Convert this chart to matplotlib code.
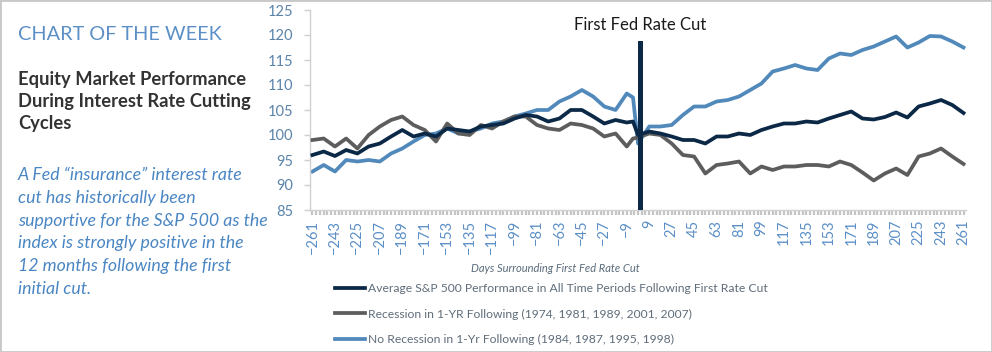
"""
Purpose: Chart of the week - S&P 500 around the first Fed rate cut
"""

import numpy as np
import matplotlib
matplotlib.use('Agg')
from matplotlib import pyplot as plt
from matplotlib import patches

# days around the first cut (x axis)
days = [-261, -252, -243, -234, -225, -216, -207, -198, -189, -180,
        -171, -162, -153, -144, -135, -126, -117, -108, -99, -90,
        -81, -72, -63, -54, -45, -36, -27, -18, -9, -4,
        0, 9, 18, 27, 36, 45, 54, 63, 72, 81,
        90, 99, 108, 117, 126, 135, 144, 153, 162, 171,
        180, 189, 198, 207, 216, 225, 234, 243, 252, 261]

avg_all = [96.0, 96.7, 95.8, 97.0, 96.3, 97.7, 98.3, 99.7, 101.0, 99.7,
           100.3, 99.7, 101.3, 101.0, 100.7, 101.7, 102.0, 102.3, 103.3, 104.0,
           103.7, 102.7, 103.3, 105.0, 105.0, 103.7, 102.3, 103.0, 102.5, 102.7,
           100.0, 100.7, 100.3, 99.7, 99.0, 99.0, 98.3, 99.7, 99.7, 100.3,
           100.0, 101.0, 101.7, 102.3, 102.3, 102.7, 102.5, 103.3, 104.0, 104.7,
           103.3, 103.1, 103.6, 104.5, 103.5, 105.7, 106.3, 107.0, 106.0, 104.4]

recession = [99.0, 99.3, 97.7, 99.3, 97.3, 100.0, 101.7, 103.0, 103.7, 102.0,
             101.0, 98.7, 102.3, 100.3, 100.0, 102.0, 101.3, 102.7, 103.7, 103.7,
             102.0, 101.3, 101.0, 102.3, 102.0, 101.3, 99.7, 100.3, 97.7, 99.3,
             99.5, 100.3, 100.0, 98.3, 96.0, 95.7, 92.3, 94.0, 94.3, 94.7,
             92.3, 93.7, 93.0, 93.7, 93.7, 94.0, 94.0, 93.7, 94.7, 94.0,
             92.5, 90.9, 92.3, 93.3, 92.0, 95.7, 96.3, 97.3, 95.7, 94.2]

no_recession = [92.7, 94.0, 92.7, 95.0, 94.7, 95.0, 94.7, 96.3, 97.3, 98.7,
                100.0, 100.3, 101.3, 100.3, 100.7, 101.3, 102.3, 102.7, 103.7, 104.3,
                105.0, 105.0, 106.7, 107.7, 109.0, 107.7, 105.7, 105.0, 108.3, 107.5,
                98.3, 101.7, 101.7, 102.0, 104.0, 105.7, 105.7, 106.7, 107.0, 107.7,
                109.0, 110.3, 112.7, 113.3, 114.0, 113.3, 113.0, 115.3, 116.3, 116.0,
                117.0, 117.7, 118.7, 119.7, 117.5, 118.5, 119.8, 119.7, 118.7, 117.5]

series_labels = ['Average S&P 500 Performance in All Time Periods Following First Rate Cut',
                 'Recession in 1-YR Following (1974, 1981, 1989, 2001, 2007)',
                 'No Recession in 1-Yr Following (1984, 1987, 1995, 1998)']

body_lines = ['A Fed \u201cinsurance\u201d interest rate',
              'cut has historically been',
              'supportive for the S&P 500 as the',
              'index is strongly positive in the',
              '12 months following the first',
              'initial cut.']

NAVY = '#0b2946'
GREY = '#5d5d5d'
BLUE = '#5189bb'
TICK_BLUE = '#5b84aa'
FONT = 'Lato'
W, H = 992, 352


def fx(px):
    """ pixel x -> figure fraction """
    return px / W
# enddef fx() #


def fy(py):
    """ pixel y (from top) -> figure fraction """
    return 1 - py / H
# enddef fy() #


def main():
    plt.rcParams['font.family'] = [FONT, 'DejaVu Sans']
    fig = plt.figure(figsize=(W / 100, H / 100), dpi=100)
    fig.patch.set_facecolor('white')

    # plot area
    ax = fig.add_axes([fx(310), fy(210), (966 - 310) / W, 200 / H])
    ax.plot(days, avg_all, color=NAVY, lw=2.7, label=series_labels[0], zorder=4)
    ax.plot(days, recession, color=GREY, lw=2.7, label=series_labels[1], zorder=3)
    ax.plot(days, no_recession, color=BLUE, lw=2.7, label=series_labels[2], zorder=2)
    ax.axvline(2, ymin=0, ymax=(118.4 - 85) / 40, color=NAVY, lw=3.6, zorder=5)
    ax.text(2, 121.0, 'First Fed Rate Cut', ha='center', va='baseline',
            fontsize=12, color='#1a1a1a')

    ax.set_xlim(-263, 263)
    ax.set_ylim(85, 125)
    ax.set_yticks(np.arange(85, 126, 5))
    ax.set_xticks(np.arange(-261, 262, 18))
    ax.set_xticks(np.arange(-261, 262, 3), minor=True)
    ax.tick_params(axis='y', length=4, width=1, color='#d0d0d0', pad=8,
                   labelsize=10.5, labelcolor=TICK_BLUE)
    ax.tick_params(axis='x', which='both', length=3.5, width=1.6,
                   color='#c4c4c4', pad=3.5, labelsize=10.5,
                   labelcolor='#5b8fc6', labelrotation=90)
    for side in ['top', 'right']:
        ax.spines[side].set_visible(False)
    for side in ['left', 'bottom']:
        ax.spines[side].set_color('#d0d0d0')
        ax.spines[side].set_linewidth(1)

    fig.text(fx(555), fy(272), 'Days Surrounding First Fed Rate Cut',
             ha='center', va='baseline', fontsize=8, style='italic',
             color='#5a6b7c')

    leg = ax.legend(loc='upper left', bbox_to_anchor=(fx(335), fy(283)),
                    bbox_transform=fig.transFigure, frameon=False,
                    fontsize=8.7, handlelength=2.5, handletextpad=0.25,
                    labelspacing=1.2, borderpad=0, borderaxespad=0)
    for txt in leg.get_texts():
        txt.set_color('#5f6d7a')

    # left hand text block
    fig.text(fx(18), fy(40.5), 'CHART OF THE WEEK', fontsize=14.3,
             color='#5b8fc6', va='baseline')
    title_lines = ['Equity Market Performance', 'During Interest Rate Cutting',
                   'Cycles']
    for i, line in enumerate(title_lines):
        fig.text(fx(18), fy(85 + 22 * i), line, fontsize=13.2, weight='bold',
                 color='#333333', va='baseline')
    for i, line in enumerate(body_lines):
        fig.text(fx(18), fy(180 + 22.8 * i), line, fontsize=12.8,
                 style='italic', color='#4a86c3', va='baseline')

    # light border round the whole picture
    fig.add_artist(patches.Rectangle((0, 0), 1, 1, transform=fig.transFigure,
                                     fill=False, edgecolor='#c8c8c8', lw=2))
    fig.savefig('out.png', dpi=100)
# enddef main() #


if __name__ == '__main__':
    main()
